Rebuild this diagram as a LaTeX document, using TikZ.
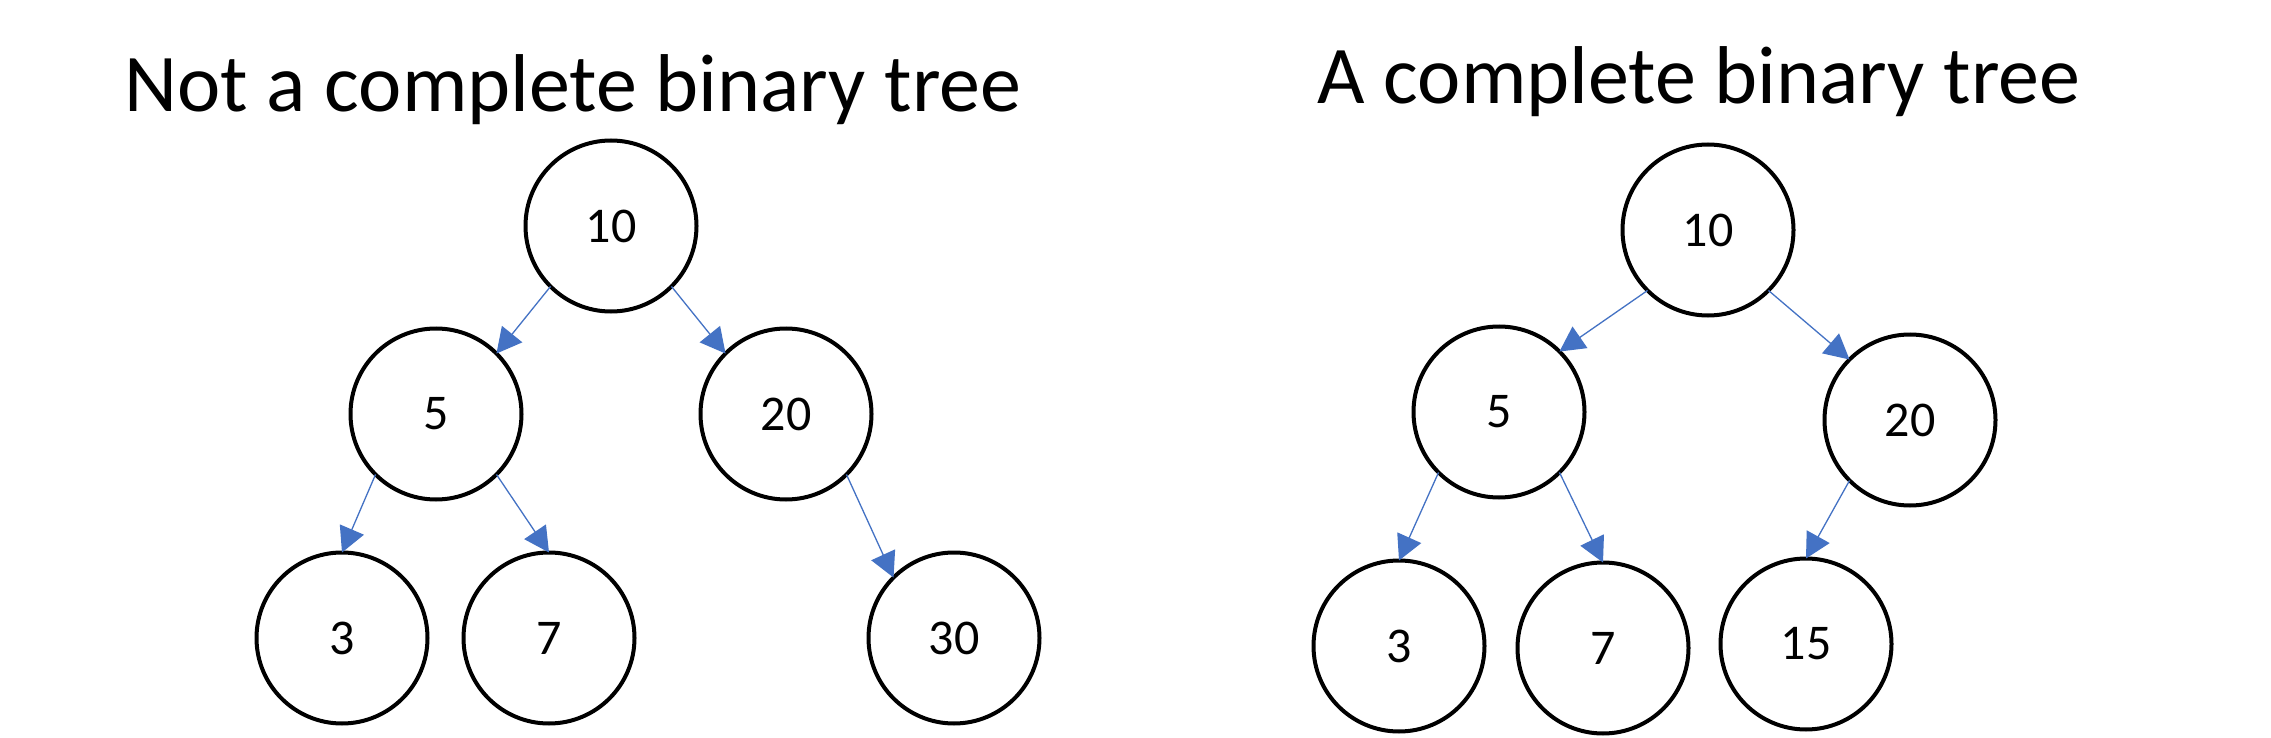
\documentclass[tikz,border=0pt]{standalone}
\usepackage{fontspec}
\setmainfont{Carlito}
\usetikzlibrary{arrows.meta}
\definecolor{edgeblue}{HTML}{4472C4}
\begin{document}
\begin{tikzpicture}[x=1pt,y=-1pt,
  treenode/.style={circle,draw=black,line width=4pt,minimum size=171pt,inner sep=0pt,outer sep=0pt,font=\fontsize{50}{60}\selectfont},
  edge/.style={draw=edgeblue,line width=1.3pt,-{Triangle[length=25pt,width=26pt]}},
  title/.style={anchor=base,font=\fontsize{82}{98}\selectfont,inner sep=0pt}]
\useasboundingbox[fill=white] (0,0) rectangle (2271,738);
\node[title] (t1) at (573,112) {Not a complete binary tree};
\node[title] (t2) at (1699,104) {A complete binary tree};
% left tree
\node[treenode] (a10) at (611,226) {10};
\node[treenode] (a5) at (436,414) {5};
\node[treenode] (a20) at (786,414) {20};
\node[treenode] (a3) at (342,638) {3};
\node[treenode] (a7) at (549,638) {7};
\node[treenode] (a30) at (954,638) {30};
\draw[edge] (a10.south west) -- (a5.north east);
\draw[edge] (a10.south east) -- (a20.north west);
\draw[edge] (a5.south west) -- (a3.north);
\draw[edge] (a5.south east) -- (a7.north);
\draw[edge] (a20.south east) -- (a30.north west);
% right tree
\node[treenode] (b10) at (1708,230) {10};
\node[treenode] (b5) at (1499,412) {5};
\node[treenode] (b20) at (1910,420) {20};
\node[treenode] (b3) at (1399,646) {3};
\node[treenode] (b7) at (1603,648) {7};
\node[treenode] (b15) at (1806,644) {15};
\draw[edge] (b10.south west) -- (b5.north east);
\draw[edge] (b10.south east) -- (b20.north west);
\draw[edge] (b5.south west) -- (b3.north);
\draw[edge] (b5.south east) -- (b7.north);
\draw[edge] (b20.south west) -- (b15.north);
\end{tikzpicture}
\end{document}
